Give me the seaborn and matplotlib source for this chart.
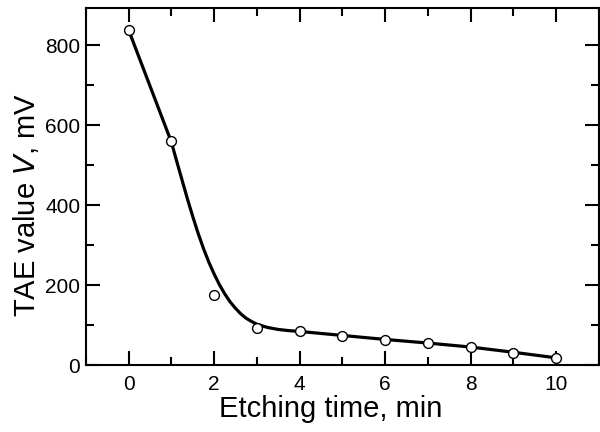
import seaborn as sns
import matplotlib.pyplot as plt
import pandas as pd

sns.set_style("ticks")
plt.rcParams['font.family'] = ['Liberation Sans', 'DejaVu Sans']
plt.rcParams['text.color'] = 'black'
plt.rcParams['axes.labelcolor'] = 'black'
plt.rcParams['xtick.color'] = 'black'
plt.rcParams['ytick.color'] = 'black'
plt.rcParams['axes.edgecolor'] = 'black'

# measured points
time_min = [0, 1, 2, 3, 4, 5, 6, 7, 8, 9, 10]
tae_mv = [838, 560, 175, 92, 85, 73, 62, 55, 44, 31, 18]

# fitted curve
fit_time = [0, 0.25, 0.5, 0.75, 1, 1.125, 1.25, 1.375, 1.5, 1.625, 1.75,
            1.875, 2, 2.125, 2.25, 2.375, 2.5, 2.625, 2.75, 2.875, 3,
            3.25, 3.5, 3.75, 4, 5, 6, 7, 8, 9, 10]
fit_mv = [838, 768, 698, 628, 558, 510, 463, 416, 372, 330, 292,
          258, 228, 201, 178, 158, 142, 128, 117, 109, 102,
          94, 89, 86, 84, 74, 64, 55, 45, 32, 18]

pts = pd.DataFrame({'t': time_min, 'v': tae_mv})
fit = pd.DataFrame({'t': fit_time, 'v': fit_mv})

fig = plt.figure(figsize=(6, 4.32), dpi=100)
ax = fig.add_axes([0.143, 0.155, 0.855, 0.826])

sns.lineplot(data=fit, x='t', y='v', ax=ax, color='black', linewidth=2.3, zorder=2)
sns.scatterplot(data=pts, x='t', y='v', ax=ax, marker='o', s=50,
                facecolor='white', edgecolor='black', linewidth=1.0, zorder=3)

ax.set_xlim(-1, 11)
ax.set_ylim(0, 892)
ax.set_xticks([0, 2, 4, 6, 8, 10])
ax.set_xticks([-1, 1, 3, 5, 7, 9, 11], minor=True)
ax.set_yticks([0, 200, 400, 600, 800])
ax.set_yticks([100, 300, 500, 700], minor=True)

ax.tick_params(which='both', direction='in', top=True, right=True,
               width=1.5, labelsize=15)
ax.tick_params(which='major', length=10)
ax.tick_params(which='minor', length=6)
ax.tick_params(axis='x', pad=7)
ax.tick_params(axis='y', pad=4)
for s in ax.spines.values():
    s.set_linewidth(1.5)

ax.set_xlabel('Etching time, min', fontsize=21)
ax.set_ylabel('TAE value $\\mathit{V}$, mV', fontsize=21)
ax.xaxis.set_label_coords(0.478, -0.085)
ax.yaxis.set_label_coords(-0.088, 0.448)

plt.savefig('out.png', dpi=100)
